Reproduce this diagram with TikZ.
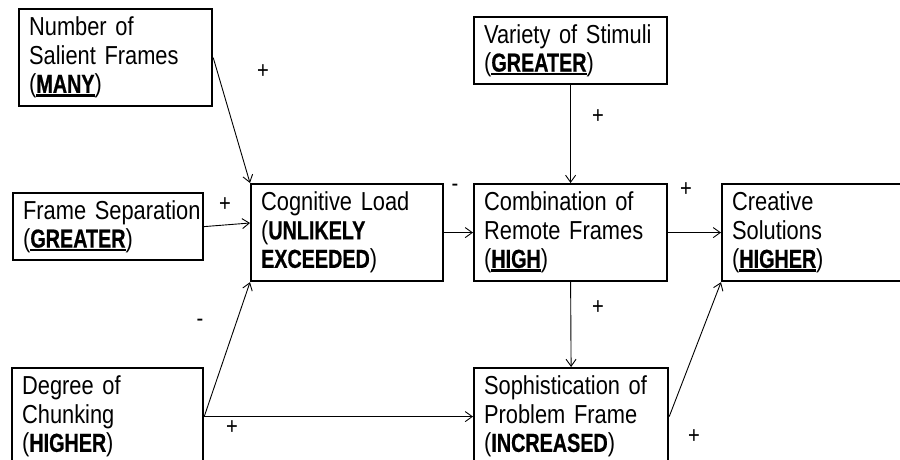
\documentclass[tikz,border=0pt]{standalone}
\usepackage{fontspec}
\setmainfont{Liberation Sans}[FakeStretch=0.84, WordSpace=0.7, BoldFeatures={FakeStretch=0.76, FakeBold=0.6}]
\usetikzlibrary{arrows.meta}

% bold keyword with a heavy underline
\newcommand\uword[1]{\setbox0\hbox{#1}\rlap{\vrule width\wd0 height -1.6pt depth 3.8pt}\box0}

\begin{document}
\begin{tikzpicture}[x=1pt, y=-1pt,
  factor/.style={draw, line width=2.2pt, align=left, inner xsep=10pt, inner ysep=0pt,
    minimum height=97pt, anchor=north west, font=\fontsize{26}{28.5}\selectfont},
  short/.style={minimum height=67pt},
  link/.style={line width=0.9pt, -{Straight Barb[length=7pt,width=10pt]}},
  sign/.style={inner sep=0pt, font=\fontsize{24}{24}\selectfont}]

\fill[white] (0,0) rectangle (900,460);
\useasboundingbox (0,0) rectangle (900,460);

% factor boxes
\node[factor, text width=173pt] (sal) at (18,8)
  {Number of\\Salient Frames\\(\uword{\textbf{MANY}})};
\node[factor, short, text width=170pt] (sep) at (12,192)
  {\mbox{Frame Separation}\\(\uword{\textbf{GREATER}})};
\node[factor, text width=172pt] (cog) at (250,183)
  {Cognitive Load\\(\textbf{UNLIKELY}\\\textbf{EXCEEDED})};
\node[factor, short, text width=173pt] (var) at (473,16)
  {\mbox{Variety of Stimuli}\\(\uword{\textbf{GREATER}})};
\node[factor, text width=173pt] (comb) at (473,183)
  {Combination of\\Remote Frames\\(\uword{\textbf{HIGH}})};
\node[factor, text width=173pt] (cre) at (721,183)
  {Creative\\Solutions\\(\uword{\textbf{HIGHER}})};
\node[factor, text width=171pt] (chk) at (11,367)
  {Degree of\\Chunking\\(\textbf{HIGHER})};
\node[factor, text width=174pt] (soph) at (473,367)
  {\mbox{Sophistication of}\\Problem Frame\\(\textbf{INCREASED})};

\coordinate (cogin) at (250,223);

% causal links
\draw[link] (sal.east) -- (cog.north west);
\draw[link] (sep.east) -- (cogin);
\draw[link] (chk.east) -- (cog.south west);
\draw[link] (chk.east) -- (soph.west);
\draw[link] (cog.east) -- (comb.west);
\draw[link] (var.south) -- (comb.north);
\draw[link] (comb.east) -- (cre.west);
\draw[link] (comb.south) -- (soph.north);
\draw[link] (soph.east) -- (cre.south west);

% link polarities
\node[sign] (s1) at (263,72) {+};
\node[sign] (s2) at (225,205) {+};
\node[sign] (s3) at (200,323) {-};
\node[sign] (s4) at (232,428) {+};
\node[sign] (s5) at (455,188) {-};
\node[sign] (s6) at (598,117) {+};
\node[sign] (s7) at (686,190) {+};
\node[sign] (s8) at (598,308) {+};
\node[sign] (s9) at (694,437) {+};
\end{tikzpicture}
\end{document}
